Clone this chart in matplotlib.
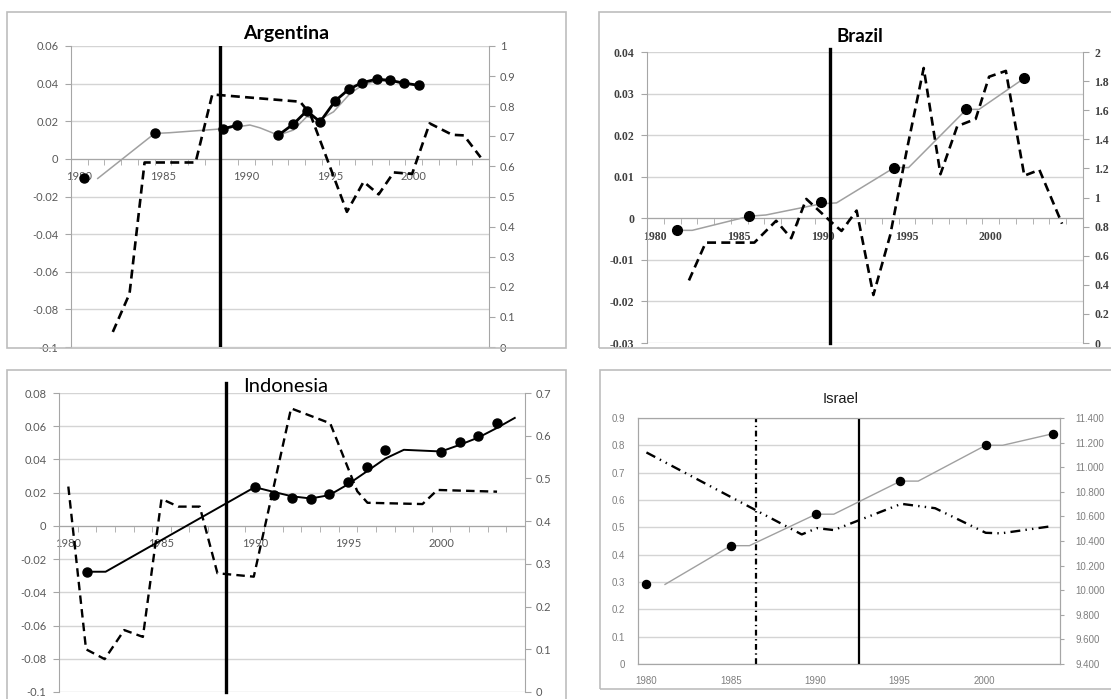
import numpy as np
import matplotlib

matplotlib.use("Agg")
import matplotlib.pyplot as plt
from matplotlib.patches import Rectangle

W, H = 1111, 699

# ---- Argentina (left axis: markers / grey, right axis: dashed) ----
ARG_MK_YEAR = [1980.3, 1984.5, 1988.6, 1989.4, 1991.9, 1992.8, 1993.6, 1994.4,
               1995.3, 1996.1, 1996.9, 1997.8, 1998.6, 1999.4, 2000.3]
ARG_MK_VAL = [-0.0104, 0.0137, 0.0160, 0.0178, 0.0126, 0.0185, 0.0255, 0.0197,
              0.0308, 0.0369, 0.0405, 0.0424, 0.0417, 0.0403, 0.0391]
ARG_LINKS = [(2, 4), (4, 15)]
ARG_GREY_YEAR = [1981.1, 1984.5, 1985.4, 1988.6, 1990.2, 1990.8, 1991.9, 1992.8,
                 1993.6, 1994.4, 1995.2, 1996.2, 1997.0, 1997.8, 1998.6, 1999.4, 2000.3]
ARG_GREY_VAL = [-0.0104, 0.0135, 0.0139, 0.0160, 0.0180, 0.0165, 0.0126, 0.0153,
                0.0224, 0.0210, 0.0250, 0.0348, 0.0396, 0.0414, 0.0414, 0.0400, 0.0392]
ARG_DASH_YEAR = [1982.0, 1983.0, 1983.9, 1986.95, 1987.95, 1993.2, 1993.8, 1996.0,
                 1997.0, 1997.9, 1998.8, 1999.9, 2000.95, 2002.3, 2003.0, 2004.0]
ARG_DASH_VAL = [0.050, 0.177, 0.613, 0.613, 0.839, 0.815, 0.775, 0.449,
                0.549, 0.507, 0.580, 0.575, 0.743, 0.705, 0.703, 0.630]
ARG_VLINE = 1988.4

# ---- Brazil ----
BRA_MK_YEAR = [1981.3, 1985.6, 1989.9, 1994.25, 1998.55, 2002.0]
BRA_MK_VAL = [-0.0029, 0.0005, 0.0038, 0.0122, 0.0263, 0.0337]
BRA_GREY_YEAR = [1981.3, 1982.2, 1985.6, 1986.6, 1989.9, 1990.8, 1994.25, 1995.1,
                 1998.55, 1999.3, 2002.0]
BRA_GREY_VAL = [-0.0029, -0.0029, 0.0005, 0.0008, 0.0035, 0.0037, 0.0122, 0.0122,
                0.0262, 0.0262, 0.0337]
BRA_DASH_YEAR = [1982.0, 1983.0, 1985.9, 1987.2, 1988.1, 1989.0, 1990.5, 1991.1,
                 1992.0, 1993.0, 1994.0, 1995.0, 1996.0, 1997.0, 1998.0, 1999.1,
                 1999.9, 2000.9, 2002.0, 2002.9, 2004.25]
BRA_DASH_VAL = [0.43, 0.69, 0.69, 0.84, 0.72, 0.99, 0.83, 0.77,
                0.91, 0.33, 0.74, 1.33, 1.89, 1.16, 1.49, 1.54,
                1.83, 1.87, 1.15, 1.19, 0.82]
BRA_VLINE = 1990.4

# ---- Indonesia ----
IDN_MK_YEAR = [1981.0, 1990.0, 1991.05, 1992.0, 1993.0, 1994.0, 1995.0, 1996.0,
               1997.0, 2000.0, 2001.0, 2002.0, 2003.0]
IDN_MK_VAL = [-0.0276, 0.0233, 0.0183, 0.0166, 0.0160, 0.0190, 0.0267, 0.0352,
              0.0456, 0.0444, 0.0504, 0.0539, 0.0619]
IDN_LINE_YEAR = [1981.0, 1982.0, 1990.0, 1991.0, 1992.0, 1993.0, 1994.0, 1995.0,
                 1996.0, 1997.0, 1998.0, 2000.0, 2001.0, 2002.0, 2003.0, 2003.95]
IDN_LINE_VAL = [-0.0276, -0.0276, 0.0233, 0.0205, 0.0178, 0.0165, 0.0185, 0.0250,
                0.0327, 0.0405, 0.0458, 0.0448, 0.0488, 0.0532, 0.0590, 0.0650]
IDN_DASH_YEAR = [1980.0, 1980.95, 1981.95, 1983.0, 1984.0, 1985.0, 1985.9, 1987.05,
                 1988.0, 1989.95, 1991.95, 1994.05, 1995.5, 1996.05, 1999.0, 1999.8,
                 2003.0]
IDN_DASH_VAL = [0.481, 0.100, 0.077, 0.145, 0.129, 0.452, 0.434, 0.434,
                0.278, 0.270, 0.664, 0.629, 0.470, 0.443, 0.440, 0.473,
                0.469]
IDN_VLINE = 1988.45

# ---- Israel ----
ISR_MK_YEAR = [1980.0, 1985.0, 1990.05, 1995.05, 2000.1, 2004.1]
ISR_MK_VAL = [10.047, 10.362, 10.618, 10.887, 11.178, 11.273]
ISR_GREY_YEAR = [1981.1, 1985.0, 1986.1, 1990.05, 1991.1, 1995.05, 1996.1,
                 2000.1, 2001.1, 2004.1]
ISR_GREY_VAL = [10.047, 10.362, 10.362, 10.618, 10.618, 10.887, 10.887,
                11.178, 11.178, 11.273]
ISR_DDOT_YEAR = [1980.0, 1989.2, 1990.1, 1991.1, 1995.1, 1997.1, 2000.1, 2001.0, 2004.1]
ISR_DDOT_VAL = [0.774, 0.474, 0.497, 0.490, 0.586, 0.570, 0.480, 0.478, 0.505]
ISR_VLINE_DASHDOT = 1986.47
ISR_VLINE_SOLID = 1992.6

GRID = "#d4d4d4"
AXIS = "#a6a6a6"
GREY_LINE = "#a0a0a0"

fig = plt.figure(figsize=(W / 100, H / 100), dpi=100)
fig.patch.set_facecolor("white")


def px_axes(left, top, right, bottom):
    return fig.add_axes([left / W, 1 - bottom / H, (right - left) / W, (bottom - top) / H])


def frame(left, top, right, bottom):
    fig.add_artist(Rectangle((left / W, 1 - bottom / H), (right - left) / W, (bottom - top) / H,
                             transform=fig.transFigure, fill=False, ec="#bdbdbd", lw=1.2))


def fmt(v, decimals=None):
    if decimals is not None:
        return f"{v:.{decimals}f}"
    return f"{v:g}"


def excel_panel(box, plot, xmax, left_ticks, right_ticks, font, label_color,
                label_size=8, weight="normal"):
    frame(*box)
    ax = px_axes(*plot)
    ax.set_xlim(1979.5, xmax)
    ax.set_ylim(left_ticks[0], left_ticks[-1])
    ax.set_yticks(left_ticks)
    ax.set_yticklabels([fmt(v) for v in left_ticks])
    ax.grid(axis="y", color=GRID, lw=1.0)
    ax.set_axisbelow(True)
    for side in ("top", "right"):
        ax.spines[side].set_visible(False)
    ax.spines["left"].set_color(AXIS)
    ax.spines["bottom"].set_position(("data", 0))
    ax.spines["bottom"].set_color(AXIS)
    ax.set_xticks([1980, 1985, 1990, 1995, 2000])
    ax.set_xticks(np.arange(1980.5, xmax, 1.0), minor=True)
    ax.tick_params(axis="x", which="major", length=0, pad=9)
    ax.tick_params(axis="x", which="minor", length=4, color=AXIS, direction="out")
    ax.tick_params(axis="y", length=4, color=AXIS, pad=5)
    ax2 = ax.twinx()
    ax2.set_ylim(right_ticks[0], right_ticks[-1])
    ax2.set_yticks(right_ticks)
    ax2.set_yticklabels([fmt(v) for v in right_ticks])
    for side in ("top", "left", "bottom"):
        ax2.spines[side].set_visible(False)
    ax2.spines["right"].set_color(AXIS)
    ax2.tick_params(axis="y", length=4, color=AXIS, pad=4)
    for a in (ax, ax2):
        for lab in a.get_xticklabels() + a.get_yticklabels():
            lab.set_fontfamily(font)
            lab.set_fontsize(label_size)
            lab.set_color(label_color)
            lab.set_fontweight(weight)
    return ax, ax2


DASH = dict(color="black", lw=1.9, dashes=(3.4, 2.0))
THICK_V = dict(color="black", lw=2.4)

# Argentina
ax, ax2 = excel_panel((7, 12, 566, 348), (71, 46, 489, 347), 2004.5,
                      np.round(np.arange(-0.1, 0.061, 0.02), 2),
                      np.round(np.arange(0, 1.01, 0.1), 1), "Lato", "#595959")
ax.plot(ARG_GREY_YEAR, ARG_GREY_VAL, color=GREY_LINE, lw=1.1, zorder=3)
for a, b in ARG_LINKS:
    ax.plot(ARG_MK_YEAR[a:b], ARG_MK_VAL[a:b], color="black", lw=2.0, zorder=4)
ax.plot(ARG_MK_YEAR, ARG_MK_VAL, ls="none", marker="o", ms=6.5, color="black", zorder=5)
ax2.plot(ARG_DASH_YEAR, ARG_DASH_VAL, **DASH)
ax2.axvline(ARG_VLINE, **THICK_V)
fig.text(286 / W, 1 - 34 / H, "Argentina", family="Lato", weight="bold", fontsize=14,
         ha="center", va="center")

# Brazil
ax, ax2 = excel_panel((599, 12, 1115, 348), (647, 52, 1083, 343), 2005.5,
                      np.round(np.arange(-0.03, 0.041, 0.01), 2),
                      np.round(np.arange(0, 2.01, 0.2), 1), "Liberation Serif", "#404040",
                      label_size=8.5, weight="bold")
ax.plot(BRA_GREY_YEAR, BRA_GREY_VAL, color=GREY_LINE, lw=1.1, zorder=3)
ax.plot(BRA_MK_YEAR, BRA_MK_VAL, ls="none", marker="o", ms=7, color="black", zorder=5)
ax2.plot(BRA_DASH_YEAR, BRA_DASH_VAL, **DASH)
ax2.axvline(BRA_VLINE, ymax=1.01, clip_on=False, **THICK_V)
fig.text(860 / W, 1 - 37 / H, "Brazil", family="Lato", weight="bold", fontsize=13.5,
         ha="center", va="center")

# Indonesia
ax, ax2 = excel_panel((7, 370, 566, 710), (59, 393, 525, 692), 2004.5,
                      np.round(np.arange(-0.1, 0.081, 0.02), 2),
                      np.round(np.arange(0, 0.71, 0.1), 1), "Lato", "#595959")
ax.plot(IDN_LINE_YEAR, IDN_LINE_VAL, color="black", lw=1.4, zorder=3)
ax.plot(IDN_MK_YEAR, IDN_MK_VAL, ls="none", marker="o", ms=6.5, color="black", zorder=5)
ax2.plot(IDN_DASH_YEAR, IDN_DASH_VAL, color="black", lw=1.7, dashes=(3.6, 2.2))
ax2.axvline(IDN_VLINE, ymax=1.035, clip_on=False, **THICK_V)
fig.text(286 / W, 1 - 386 / H, "Indonesia", family="Lato", fontsize=14.5,
         ha="center", va="center")

# Israel
frame(600, 370, 1115, 689)
ax = px_axes(638, 418, 1060, 664)
ax.set_xlim(1979.5, 2004.5)
ax.set_ylim(0, 0.9)
left_ticks = np.round(np.arange(0, 0.91, 0.1), 1)
ax.set_yticks(left_ticks)
ax.set_yticklabels([fmt(v) for v in left_ticks])
ax.set_xticks([1980, 1985, 1990, 1995, 2000])
ax.grid(axis="y", color=GRID, lw=1.0)
ax.set_axisbelow(True)
for side in ax.spines.values():
    side.set_color(AXIS)
ax.tick_params(axis="x", length=0, pad=9)
ax.tick_params(axis="y", length=0, pad=9)
ax2 = ax.twinx()
ax2.set_ylim(9.4, 11.4)
right_ticks = np.round(np.arange(9.4, 11.41, 0.2), 1)
ax2.set_yticks(right_ticks)
ax2.set_yticklabels([fmt(v, 3) for v in right_ticks])
for side in ax2.spines.values():
    side.set_color(AXIS)
ax2.tick_params(axis="y", length=3, color=AXIS, pad=8)
for a in (ax, ax2):
    for lab in a.get_xticklabels() + a.get_yticklabels():
        lab.set_fontfamily("Liberation Sans")
        lab.set_fontsize(7)
        lab.set_color("#7f7f7f")
ax2.plot(ISR_GREY_YEAR, ISR_GREY_VAL, color=GREY_LINE, lw=1.0, zorder=3)
ax2.plot(ISR_MK_YEAR, ISR_MK_VAL, ls="none", marker="o", ms=5.8, color="black", zorder=5)
ax.plot(ISR_DDOT_YEAR, ISR_DDOT_VAL, color="black", lw=1.7,
        dashes=(4.2, 2.2, 0.6, 2.2, 0.6, 2.2), zorder=4)
ax2.axvline(ISR_VLINE_DASHDOT, color="black", lw=1.6, dashes=(2.6, 1.6, 0.6, 1.6))
ax2.axvline(ISR_VLINE_SOLID, color="black", lw=1.6)
fig.text(841 / W, 1 - 399 / H, "Israel", family="Liberation Sans", fontsize=10.5,
         color="#1a1a1a", ha="center", va="center")

fig.savefig("out.png", dpi=100, facecolor="white")
